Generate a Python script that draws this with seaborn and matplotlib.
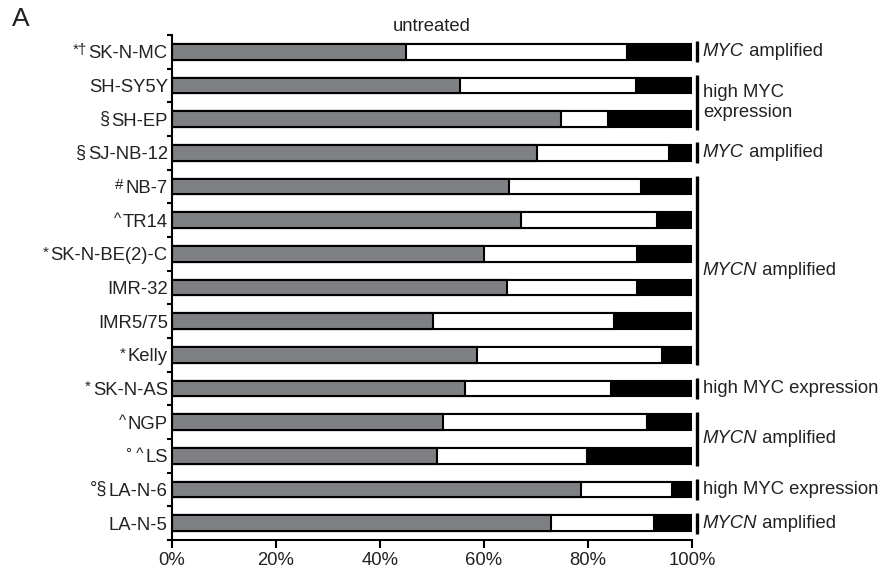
import numpy as np
import pandas as pd
import matplotlib
matplotlib.use("Agg")
import matplotlib.pyplot as plt
import seaborn as sns

# Cell lines (top to bottom) and the superscript marks printed before each name
cell_lines = ["SK-N-MC", "SH-SY5Y", "SH-EP", "SJ-NB-12", "NB-7", "TR14",
              "SK-N-BE(2)-C", "IMR-32", "IMR5/75", "Kelly", "SK-N-AS",
              "NGP", "LS", "LA-N-6", "LA-N-5"]
marks = ["*\u2020", "", "\u00a7", "\u00a7", "#", "^", "*", "", "", "*", "*",
         "^", "\u00b0 ^", "\u00b0\u00a7", ""]

# Percentage of cells in each of the three fractions (grey, white, black)
grey_pct = [45.0, 55.3, 74.8, 70.1, 64.8, 67.1, 60.0, 64.4, 50.1, 58.6,
            56.4, 52.1, 51.0, 78.7, 72.9]
white_pct = [42.5, 34.0, 9.1, 25.4, 25.3, 26.2, 29.5, 25.0, 34.9, 35.6,
             28.1, 39.2, 28.8, 17.4, 19.8]
black_pct = [12.5, 10.7, 16.1, 4.5, 9.9, 6.7, 10.5, 10.6, 15.0, 5.8,
             15.5, 8.7, 20.2, 3.9, 7.3]

# Annotation groups on the right: (first index, last index, italic part, rest)
groups = [(0, 0, "MYC", " amplified"),
          (1, 2, None, "high MYC\nexpression"),
          (3, 3, "MYC", " amplified"),
          (4, 9, "MYCN", " amplified"),
          (10, 10, None, "high MYC expression"),
          (11, 12, "MYCN", " amplified"),
          (13, 13, None, "high MYC expression"),
          (14, 14, "MYCN", " amplified")]

xticks = [0, 20, 40, 60, 80, 100]
xtick_labels = ["0%", "20%", "40%", "60%", "80%", "100%"]

sns.set_style("ticks")
plt.rcParams["font.family"] = ["Liberation Sans", "DejaVu Sans"]
plt.rcParams["font.size"] = 13.3
plt.rcParams["text.color"] = "#222222"
plt.rcParams["xtick.color"] = "#222222"
plt.rcParams["ytick.color"] = "#222222"

df = pd.DataFrame({"cell_line": cell_lines, "grey": grey_pct,
                   "white": white_pct, "black": black_pct})
df["to_white"] = df["grey"] + df["white"]
df["to_black"] = df["to_white"] + df["black"]

fig = plt.figure(figsize=(8.83, 5.73), dpi=100)
ax = fig.add_axes([172 / 883, 1 - 540 / 573, 520 / 883, (540 - 35) / 573])

bar_kw = dict(orient="h", edgecolor="black", linewidth=1.5, width=0.47,
              ax=ax, saturation=1)
sns.barplot(data=df, x="to_black", y="cell_line", color="black", **bar_kw)
sns.barplot(data=df, x="to_white", y="cell_line", color="white", **bar_kw)
sns.barplot(data=df, x="grey", y="cell_line", color="#7e8084", **bar_kw)

ax.set_xlim(0, 100)
ax.set_ylim(14.5, -0.5)
ax.set_xlabel("")
ax.set_ylabel("")
ax.set_xticks(xticks)
ax.set_xticklabels(xtick_labels)
ax.set_yticks(np.arange(-0.5, len(cell_lines), 1), minor=True)
ax.tick_params(axis="y", which="major", length=0, pad=3)
ax.tick_params(axis="y", which="minor", length=3.5, width=1.5, color="black")
ax.tick_params(axis="x", which="major", length=5.8, width=1.5, color="black",
               pad=3)
for side in ("top", "right"):
    ax.spines[side].set_visible(False)
for side in ("left", "bottom"):
    ax.spines[side].set_linewidth(1.5)
    ax.spines[side].set_color("black")

ax.set_title("untreated", fontsize=13.3, pad=3)
fig.text(12 / 883, 1 - 7 / 573, "A", fontsize=19, va="top", ha="left")

# Brackets and group labels on the right
for first, last, ital, rest in groups:
    ax.plot([100.95, 100.95], [first - 0.31, last + 0.31], color="black",
            lw=2.4, clip_on=False, solid_capstyle="butt")
    ymid = (first + last) / 2
    if ital is None:
        ax.text(102.1, ymid, rest, ha="left", va="center", fontsize=13.3,
                linespacing=1.2)
    else:
        t = ax.text(102.1, ymid, ital, ha="left", va="center", fontsize=13.3,
                    style="italic")
        ax.annotate(rest, xy=(1, 0.5), xycoords=t, ha="left", va="center",
                    fontsize=13.3)

# Superscript marks in front of the cell line names
fig.canvas.draw()
inv = fig.transFigure.inverted()
for lab, mk in zip(ax.get_yticklabels(), marks):
    if not mk:
        continue
    bb = lab.get_window_extent()
    x, y = inv.transform((bb.x0 - 2, bb.y1 + 2))
    size = 13 if "\u00a7" in mk else 11
    fig.text(x, y, mk, ha="right", va="top", fontsize=size)

fig.savefig("out.png", dpi=100)
